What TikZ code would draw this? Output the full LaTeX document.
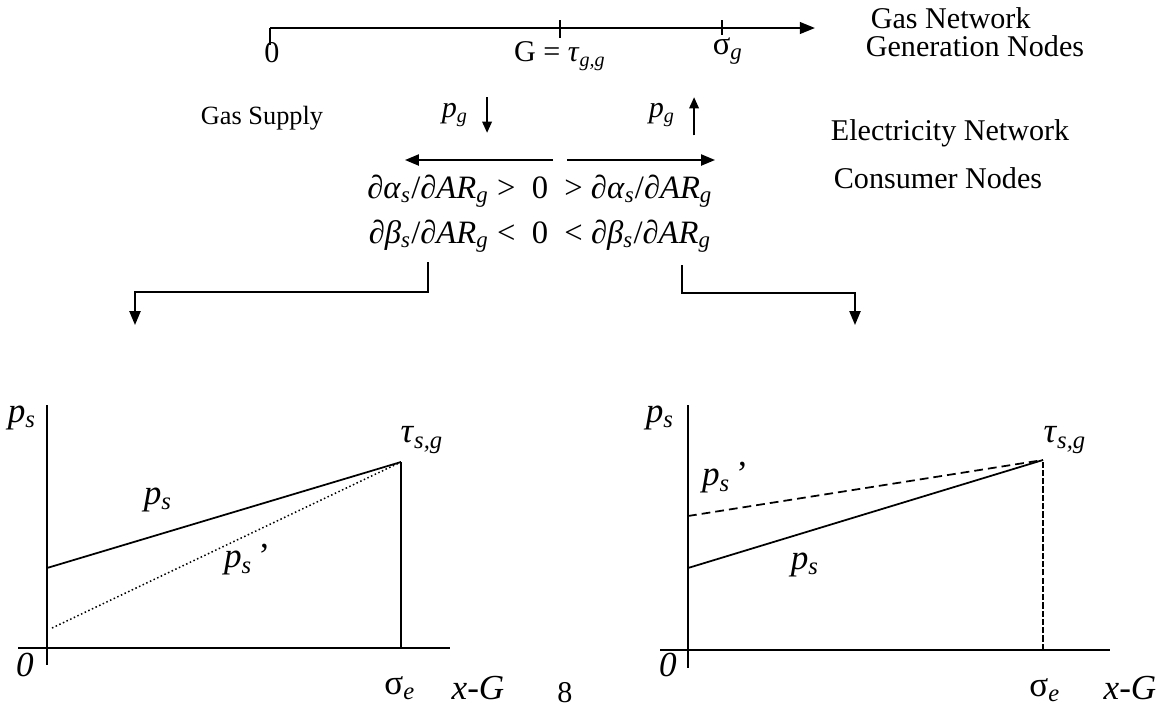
\documentclass[tikz,border=0pt]{standalone}
\usepackage{fontspec}
\setmainfont{Liberation Serif}
\usetikzlibrary{arrows.meta,positioning}
% italic symbol with italic subscript
\newcommand{\iv}[2]{\textit{#1}\textsubscript{\textit{#2}}}

\begin{document}
\begin{tikzpicture}[x=0.014cm,y=-0.014cm,font=\fontsize{12}{14}\selectfont,
  axisline/.style={line width=0.8pt},
  flow/.style={line width=0.9pt,-{Triangle[length=6pt,width=4.6pt]}},
  linkarrow/.style={line width=0.7pt,-{Triangle[length=5.5pt,width=4.4pt]}},
  small/.style={line width=0.8pt,-{Triangle[length=4.5pt,width=3.8pt]}},
  eqn/.style={font=\fontsize{13}{15}\selectfont},
  plotlbl/.style={font=\fontsize{14}{16}\selectfont}]
\useasboundingbox (0,0) rectangle (1159,711);
% --- gas network axis ---
\coordinate (g0) at (270,28);
\coordinate (gtip) at (815,28);
\coordinate (gG) at (560,28);
\coordinate (gS) at (722,28);
\draw[flow] (g0) -- (gtip);
\draw[axisline] (g0) -- ++(0,17);
\draw[axisline] (gG) ++(0,-8) -- ++(0,18);
\draw[axisline] (gS) ++(0,-8) -- ++(0,15);
\node (zero) at (272,53) {0};
\node (Gtau) at (560,56) {G = \iv{τ}{g,g}};
\node[font=\fontsize{13}{15}\selectfont] (sigg) at (728,51) {σ\textsubscript{\textit{g}}};
\node[anchor=west] (gasnet) at (862,18) {Gas Network};
\node[anchor=west] (gennode) at (857,46) {Generation Nodes};
% --- price effects ---
\node[font=\fontsize{10.5}{12}\selectfont] (supply) at (262,118) {Gas Supply};
\node (pgdn) at (455,115) {\iv{p}{g}};
\node (pgup) at (662,115) {\iv{p}{g}};
\draw[small] ([xshift=4pt,yshift=-1pt]pgdn.north east) -- ([xshift=4pt,yshift=1pt]pgdn.south east);
\draw[small] ([xshift=4pt,yshift=0pt]pgup.south east) -- ([xshift=4pt,yshift=-1pt]pgup.north east);
\coordinate (lstart) at (553,160);
\coordinate (lend) at (405,160);
\coordinate (rstart) at (567,160);
\coordinate (rend) at (715,160);
\draw[linkarrow] (lstart) -- (lend);
\draw[linkarrow] (rstart) -- (rend);
\node[eqn] (eqa) at (540,191) {∂\iv{α}{s}/∂\iv{AR}{g} >\ \ 0\ \ > ∂\iv{α}{s}/∂\iv{AR}{g}};
\node[eqn] (eqb) at (540,236) {∂\iv{β}{s}/∂\iv{AR}{g} <\ \ 0\ \ < ∂\iv{β}{s}/∂\iv{AR}{g}};
\node[anchor=west] (elecnet) at (822,133) {Electricity Network};
\node[anchor=west] (consnode) at (825,178) {Consumer Nodes};
% --- links to the two panels ---
\coordinate (ltop) at (428,262);
\coordinate (ltip) at (135,325);
\coordinate (rtop) at (682,265);
\coordinate (rtip) at (855,325);
\draw[linkarrow] (ltop) -- ++(0,30) -| (ltip);
\draw[linkarrow] (rtop) -- ++(0,28) -| (rtip);
% --- left panel ---
\coordinate (lo) at (47,648);
\coordinate (lsig) at (401,648);
\coordinate (ltau) at (401,462);
\draw[axisline] (47,405) -- (47,665);
\draw[axisline] (18,648) -- (450,648);
\draw[line width=0.6pt] (lsig) -- (ltau);
\draw[line width=0.7pt] (47,568) -- (ltau);
\draw[line width=0.6pt,densely dotted] (52,628) -- (ltau);
\node[plotlbl] (lps) at (22,418) {\iv{p}{s}};
\node[plotlbl] (ltaul) at (422,440) {\iv{τ}{s,g}};
\node[plotlbl] (lpsa) at (158,500) {\iv{p}{s}};
\node[plotlbl] (lpsb) at (247,560) {\iv{p}{s}\,’};
\node[plotlbl] (lzero) at (25,665) {\textit{0}};
\node[plotlbl] (lsigl) at (400,688) {σ\textsubscript{\textit{e}}};
\node[plotlbl] (lxg) at (478,688) {\textit{x-G}};
% --- right panel ---
\coordinate (ro) at (688,650);
\coordinate (rsig) at (1043,650);
\coordinate (rtau) at (1043,460);
\draw[axisline] (688,405) -- (688,668);
\draw[axisline] (660,650) -- (1110,650);
\draw[line width=0.6pt,dash pattern=on 2.5pt off 0.8pt] (rsig) -- (rtau);
\draw[line width=0.7pt] (688,568) -- (rtau);
\draw[line width=0.7pt,dash pattern=on 3.5pt off 2pt] (688,516) -- (rtau);
\node[plotlbl] (rps) at (660,418) {\iv{p}{s}};
\node[plotlbl] (rtaul) at (1065,440) {\iv{τ}{s,g}};
\node[plotlbl] (rpsb) at (725,478) {\iv{p}{s}\,’};
\node[plotlbl] (rpsa) at (805,565) {\iv{p}{s}};
\node[plotlbl] (rzero) at (668,665) {\textit{0}};
\node[plotlbl] (rsigl) at (1045,690) {σ\textsubscript{\textit{e}}};
\node[plotlbl] (rxg) at (1130,688) {\textit{x-G}};
\node (page) at (565,693) {8};
\end{tikzpicture}
\end{document}
